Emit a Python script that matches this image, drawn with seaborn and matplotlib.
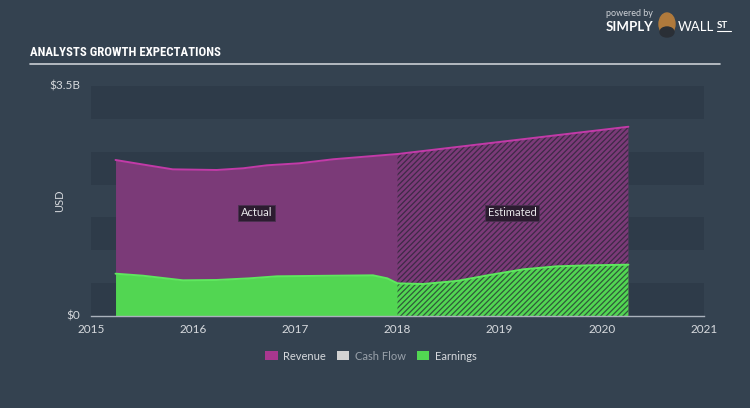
import numpy as np
import pandas as pd
import matplotlib
matplotlib.use("Agg")
import matplotlib.pyplot as plt
import seaborn as sns
from matplotlib.patches import Patch, Ellipse

# ---- data (USD billions) ----
rev_act_x = [2015.24, 2015.58, 2015.80, 2016.23, 2016.49, 2016.72, 2017.04, 2017.37, 2018.0]
rev_act_y = [2.374, 2.287, 2.232, 2.222, 2.248, 2.293, 2.324, 2.385, 2.465]
rev_est_x = [2018.0, 2020.26]
rev_est_y = [2.465, 2.88]

earn_act_x = [2015.24, 2015.51, 2015.90, 2016.23, 2016.55, 2016.82, 2017.37, 2017.76, 2017.90, 2018.0]
earn_act_y = [0.644, 0.613, 0.543, 0.548, 0.573, 0.604, 0.613, 0.619, 0.573, 0.507]
earn_est_x = [2018.0, 2018.25, 2018.58, 2018.90, 2019.23, 2019.56, 2019.88, 2020.26]
earn_est_y = [0.487, 0.487, 0.533, 0.624, 0.710, 0.756, 0.771, 0.781]

x_ticks = [2015, 2016, 2017, 2018, 2019, 2020, 2021]
y_tick_vals = [0, 3.5]
y_tick_labels = ["$0", "$3.5B"]
legend_labels = ["Revenue", "Cash Flow", "Earnings"]

BG = "#344250"
BAND = "#2e3b49"
REV_FILL = "#7b3a78"
REV_LINE = "#c23aa8"
EARN_FILL = "#52d652"
EARN_LINE = "#5ee85e"
TXT = "#d6d9dd"

sns.set_style("dark")
plt.rcParams['font.family'] = ['Lato', 'DejaVu Sans']
plt.rcParams['hatch.linewidth'] = 0.9

W, H = 750, 408
fig = plt.figure(figsize=(7.5, 4.08), dpi=100, facecolor=BG)
ax = fig.add_axes([91 / W, 1 - 316 / H, (704 - 91) / W, (316 - 86) / H])
ax.set_facecolor(BG)

# background bands
for lo in [0, 1.0, 2.0, 3.0]:
    ax.axhspan(lo, lo + 0.5, color=BAND, lw=0, zorder=0)

# revenue
ax.fill_between(rev_act_x, 0, rev_act_y, color=REV_FILL, lw=0, zorder=1)
ax.fill_between(rev_est_x, 0, rev_est_y, facecolor=REV_FILL, edgecolor="#3d2a46",
                hatch="//////", lw=0, zorder=1)
# earnings
ax.fill_between(earn_act_x, 0, earn_act_y, color=EARN_FILL, lw=0, zorder=2)
ax.fill_between(earn_est_x, 0, earn_est_y, facecolor=EARN_FILL, edgecolor="#2f5a3a",
                hatch="//////", lw=0, zorder=2)

df_rev = pd.DataFrame({"x": rev_act_x + rev_est_x[1:], "y": rev_act_y + rev_est_y[1:]})
df_earn = pd.DataFrame({"x": earn_act_x + earn_est_x, "y": earn_act_y + earn_est_y})
sns.lineplot(data=df_rev, x="x", y="y", ax=ax, color=REV_LINE, lw=1.4, zorder=3, sort=False)
sns.lineplot(data=df_earn, x="x", y="y", ax=ax, color=EARN_LINE, lw=1.4, zorder=3, sort=False)

ax.set_xlim(2015, 2021)
ax.set_ylim(0, 3.5)
ax.set_xlabel("")
ax.set_ylabel("")
ax.grid(False)
for s in ["top", "right", "left"]:
    ax.spines[s].set_visible(False)
ax.spines["bottom"].set_color("#aab2bc")
ax.spines["bottom"].set_linewidth(1.0)
ax.set_xticks(x_ticks)
ax.set_xticklabels([str(t) for t in x_ticks], color=TXT, fontsize=8.5)
ax.tick_params(axis="x", colors="#aab2bc", length=5, width=1, direction="out", pad=1,
               labelcolor=TXT)
ax.set_yticks([])

# y labels
for v, lab in zip(y_tick_vals, y_tick_labels):
    y_pix = 316 - v / 3.5 * 230
    fig.text(80 / W, 1 - y_pix / H, lab, ha="right", va="center", color=TXT, fontsize=8.5)
fig.text(60 / W, 1 - 201 / H, "USD", rotation=90, ha="center", va="center",
         color=TXT, fontsize=8)

# Actual / Estimated labels
for xv, lab in [(2016.62, "Actual"), (2019.12, "Estimated")]:
    ax.text(xv, 1.57, lab, ha="center", va="center", color="#e8e8ea", fontsize=8, zorder=5,
            bbox=dict(boxstyle="square,pad=0.25", fc="#2c1c30", ec="#4a3050", lw=0.6))

# title and rule
fig.text(30 / W, 1 - 53 / H, "ANALYSTS GROWTH EXPECTATIONS", ha="left", va="center",
         color="white", fontsize=9.2, fontweight="bold", fontstretch="condensed",
         family=["DejaVu Sans Condensed", "Liberation Sans Narrow", "Roboto Condensed",
                 "DejaVu Sans"])
fig.add_artist(plt.Line2D([30 / W, 720 / W], [1 - 64 / H, 1 - 64 / H], color="#c9ced4", lw=1.2))

# logo
fig.text(606 / W, 1 - 14 / H, "powered by", ha="left", va="center", color="#cfd3d8", fontsize=6.5)
fig.text(606 / W, 1 - 27 / H, "SIMPLY", ha="left", va="center", color="white",
         fontsize=9.5, fontweight="bold")
fig.add_artist(Ellipse((667 / W, 1 - 24 / H), 16 / W, 22 / H, color="#b07a3c"))
fig.add_artist(Ellipse((667 / W, 1 - 32 / H), 14 / W, 10 / H, color="#2a2f36"))
fig.text(678 / W, 1 - 27 / H, "WALL", ha="left", va="center", color="white", fontsize=9.5)
fig.text(717 / W, 1 - 26 / H, "ST", ha="left", va="center", color="white", fontsize=7,
         fontweight="bold")
fig.add_artist(plt.Line2D([717 / W, 731 / W], [1 - 31 / H, 1 - 31 / H], color="white", lw=0.8))

# legend
handles = [Patch(fc="#a8378f", ec="none"), Patch(fc="#d3d3d3", ec="none"),
           Patch(fc=EARN_FILL, ec="none")]
leg = fig.legend(handles, legend_labels, loc="center", bbox_to_anchor=(371 / W, 1 - 356 / H),
                 ncol=3, frameon=False, fontsize=8, handlelength=1.1, handleheight=0.9,
                 columnspacing=1.0, handletextpad=0.5)
for t, c in zip(leg.get_texts(), [TXT, "#9aa2ab", TXT]):
    t.set_color(c)

fig.savefig("out.png", dpi=100, facecolor=BG)
